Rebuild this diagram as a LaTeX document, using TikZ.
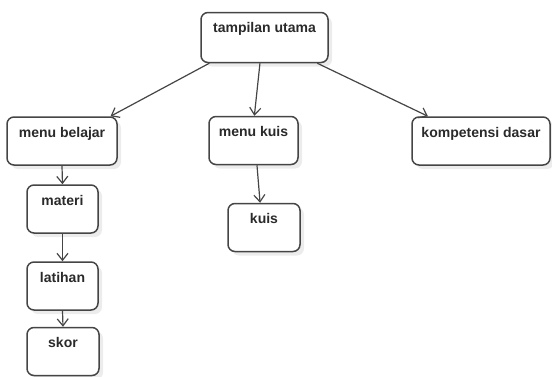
\documentclass[tikz,border=0pt]{standalone}
\usepackage{fontspec}
\setmainfont{Liberation Sans}
\usepackage{tikz}
\usetikzlibrary{arrows.meta, shadows}
\definecolor{linegray}{HTML}{454545}
\definecolor{textgray}{HTML}{2A2A2A}
\tikzset{>={Straight Barb[length=7pt, width=11pt]}}

\begin{document}
\begin{tikzpicture}[x=1pt, y=-1pt,
    box/.style={draw=linegray, line width=1.5pt, rounded corners=7pt, fill=white,
        drop shadow={opacity=0.15, shadow xshift=4pt, shadow yshift=-4pt},
        font=\fontsize{14}{16}\selectfont\bfseries, text=textgray,
        inner xsep=2pt, inner ysep=10pt, text height=10pt, text depth=18pt},
    link/.style={->, draw=linegray, line width=1.2pt}]
    % Frame
    \useasboundingbox (0,0) rectangle (552,376);

    % Top box
    \node[box, minimum width=127pt, text depth=20pt] (utama) at (264.5,37.5) {tampilan utama};

    % Menus
    \node[box, minimum width=110pt] (belajar) at (62,141) {menu belajar};
    \node[box, minimum width=89pt] (menukuis) at (253.5,140.5) {menu kuis};
    \node[box, minimum width=138pt] (kd) at (481,141) {kompetensi dasar};

    % Learning path
    \node[box, minimum width=71pt] (materi) at (62.5,209) {materi};
    \node[box, minimum width=71pt] (latihan) at (62.5,286) {latihan};
    \node[box, minimum width=72pt] (skor) at (63,351.5) {skor};

    % Quiz
    \node[box, minimum width=72pt] (kuis) at (264,227.5) {kuis};

    % Arrows
    \draw[link] (utama.205) -- (belajar.27);
    \draw[link] (utama.260) -- (menukuis.88);
    \draw[link] (utama.334) -- (kd.155);
    \draw[link] (belajar.south) -- (materi.north);
    \draw[link] (materi.south) -- (latihan.north);
    \draw[link] (latihan.south) -- (skor.north);
    \draw[link] (menukuis.278) -- (kuis.99);
\end{tikzpicture}
\end{document}
